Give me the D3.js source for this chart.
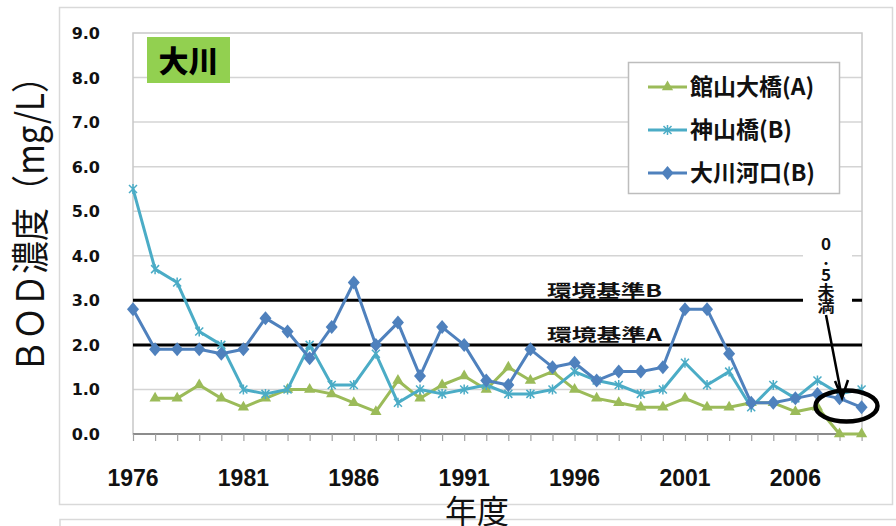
<!DOCTYPE html>
<html><head><meta charset="utf-8">
<script src="https://cdn.jsdelivr.net/npm/d3@7"></script>
<style>body{margin:0;background:#fff}svg{display:block}</style>
</head><body><svg id="c" width="896" height="526"></svg>
<script>
const years = [1976,1977,1978,1979,1980,1981,1982,1983,1984,1985,1986,1987,1988,1989,1990,1991,1992,1993,1994,1995,1996,1997,1998,1999,2000,2001,2002,2003,2004,2005,2006,2007,2008,2009];
const yTicks = [0,1,2,3,4,5,6,7,8,9];
const xLabelYears = [1976,1981,1986,1991,1996,2001,2006];
const seriesNames = ["館山大橋(A)","神山橋(B)","大川河口(B)"];
const tateyama = [null,0.8,0.8,1.1,0.8,0.6,0.8,1.0,1.0,0.9,0.7,0.5,1.2,0.8,1.1,1.3,1.0,1.5,1.2,1.4,1.0,0.8,0.7,0.6,0.6,0.8,0.6,0.6,0.7,0.7,0.5,0.6,0.0,0.0];
const kamiyama = [5.5,3.7,3.4,2.3,2.0,1.0,0.9,1.0,2.0,1.1,1.1,1.8,0.7,1.0,0.9,1.0,1.1,0.9,0.9,1.0,1.4,1.2,1.1,0.9,1.0,1.6,1.1,1.4,0.6,1.1,0.8,1.2,0.9,1.0];
const okawa = [2.8,1.9,1.9,1.9,1.8,1.9,2.6,2.3,1.7,2.4,3.4,2.0,2.5,1.3,2.4,2.0,1.2,1.1,1.9,1.5,1.6,1.2,1.4,1.4,1.5,2.8,2.8,1.8,0.7,0.7,0.8,0.9,0.8,0.6];
const standardValues = [3.0, 2.0];
const standardLabels = ["環境基準B","環境基準A"];
const riverLabel = "大川";
const noteText = "0.5未満";
const yTitle = "ＢＯＤ濃度（mg/L）";
const xTitle = "年度";

const svg = d3.select("#c");
svg.append("rect").attr("width",896).attr("height",526).attr("fill","#fff");

const L = 133, R = 862, T = 33, B = 434;
const x = d3.scalePoint().domain(years).range([L, 861.6]);
const y = d3.scaleLinear().domain([0, 9]).range([B, T]);

// outer chart borders
svg.append("rect").attr("x",59.5).attr("y",7.5).attr("width",833).attr("height",497)
  .attr("fill","none").attr("stroke","#d9d9d9").attr("stroke-width",1.5);
svg.append("path").attr("d","M60,526V519.5H896").attr("fill","none").attr("stroke","#d9d9d9").attr("stroke-width",1.5);

// gridlines
svg.append("g").selectAll("line").data(yTicks.filter(d => d > 0 && d < 9)).join("line")
  .attr("x1", L).attr("x2", R).attr("y1", d => y(d)).attr("y2", d => y(d))
  .attr("stroke","#d4d4d4").attr("stroke-width",1.5);
// plot border
svg.append("rect").attr("x",L).attr("y",T).attr("width",R-L).attr("height",B-T)
  .attr("fill","none").attr("stroke","#c8c8c8").attr("stroke-width",1.5);

// y labels
svg.append("g").selectAll("text").data(yTicks).join("text")
  .attr("x", 100).attr("y", d => y(d) + 6)
  .attr("text-anchor","end").attr("font-family","DejaVu Sans").attr("font-weight","bold")
  .attr("font-size",16).attr("fill","#111").text(d => d.toFixed(1));

// x axis with ticks at every year
const xAxis = svg.append("g").attr("transform",`translate(0,${B})`)
  .call(d3.axisBottom(x).tickSize(7).tickFormat(""));
xAxis.select(".domain").attr("stroke","#8c8c8c").attr("stroke-width",2).attr("d",`M${L},0H${R}`);
xAxis.selectAll(".tick line").attr("stroke","#a0a0a0").attr("stroke-width",1.2);
svg.append("g").selectAll("text").data(xLabelYears).join("text")
  .attr("x", d => x(d)).attr("y", 486).attr("text-anchor","middle")
  .attr("font-family","Liberation Sans").attr("font-weight","bold").attr("font-size",23)
  .attr("fill","#111").text(d => d);

// standard lines
svg.append("g").selectAll("line").data(standardValues).join("line")
  .attr("x1", L).attr("x2", R).attr("y1", d => y(d)).attr("y2", d => y(d))
  .attr("stroke","#000").attr("stroke-width",3);

// series
const series = [
  {name: seriesNames[0], values: tateyama, color: "#9bbb59", marker: "tri"},
  {name: seriesNames[1], values: kamiyama, color: "#4bacc6", marker: "star"},
  {name: seriesNames[2], values: okawa, color: "#4f81bd", marker: "dia"}
];
const line = d3.line().defined(d => d.v !== null).x(d => x(d.yr)).y(d => y(d.v));
function drawMarker(g, type, color) {
  if (type === "tri") {
    g.append("path").attr("d", d3.symbol(d3.symbolTriangle, 55)()).attr("fill", color);
  } else if (type === "dia") {
    g.append("path").attr("d","M0,-7L6,0L0,7L-6,0Z").attr("fill", color);
  } else {
    g.append("path").attr("d","M-4,-4L4,4M-4,4L4,-4M0,-5V5").attr("stroke", color).attr("stroke-width",1.5).attr("fill","none");
  }
}
series.forEach(s => {
  const pts = years.map((yr, i) => ({yr, v: s.values[i]}));
  svg.append("path").datum(pts).attr("d", line).attr("fill","none")
    .attr("stroke", s.color).attr("stroke-width",3).attr("stroke-linejoin","round");
  const mg = svg.append("g");
  pts.filter(d => d.v !== null).forEach(d => {
    const g = mg.append("g").attr("transform", `translate(${x(d.yr)},${y(d.v)})`);
    drawMarker(g, s.marker, s.color);
  });
});

// standard labels
svg.append("g").selectAll("text").data(standardValues).join("text")
  .attr("x", 547).attr("y", d => y(d) - 3.5)
  .attr("font-family","Noto Sans CJK JP").attr("font-weight","bold").attr("font-size",17)
  .attr("textLength",115).attr("lengthAdjust","spacingAndGlyphs")
  .attr("fill","#111").text((d,i) => standardLabels[i]);

// note box with vertical text
svg.append("rect").attr("x",803).attr("y",233).attr("width",49).attr("height",84).attr("fill","#fff");
svg.append("text").attr("x",826).attr("y",236)
  .style("writing-mode","vertical-rl").style("text-orientation","upright")
  .attr("font-family","Noto Sans CJK JP").attr("font-weight","bold").attr("font-size",17)
  .attr("textLength",78).attr("lengthAdjust","spacingAndGlyphs")
  .attr("fill","#111").text(noteText);
// arrow
svg.append("path").attr("d","M826,315L842,398M835,381L842,398L848,380")
  .attr("fill","none").attr("stroke","#000").attr("stroke-width",2.5).attr("stroke-linejoin","miter");
// ellipse
svg.append("ellipse").attr("cx",846.5).attr("cy",406).attr("rx",31).attr("ry",15.5)
  .attr("fill","none").attr("stroke","#000").attr("stroke-width",4.5);

// river label
svg.append("rect").attr("x",147).attr("y",37).attr("width",83).attr("height",46).attr("fill","#92d050");
svg.append("text").attr("x",188.5).attr("y",61).attr("dy","0.36em").attr("text-anchor","middle")
  .attr("font-family","Noto Sans CJK JP").attr("font-weight","900").attr("font-size",30)
  .attr("fill","#000").text(riverLabel);

// legend
const lg = svg.append("g");
lg.append("rect").attr("x",628.5).attr("y",62.5).attr("width",211).attr("height",131)
  .attr("fill","#fff").attr("stroke","#bdbdbd").attr("stroke-width",1.5);
series.forEach((s, i) => {
  const cy = 87 + i * 43;
  lg.append("line").attr("x1",648).attr("x2",687).attr("y1",cy).attr("y2",cy)
    .attr("stroke", s.color).attr("stroke-width",3);
  const g = lg.append("g").attr("transform",`translate(667.5,${cy})`);
  drawMarker(g, s.marker, s.color);
  lg.append("text").attr("x",690).attr("y",cy).attr("dy","0.36em")
    .attr("font-family","Noto Sans CJK JP").attr("font-weight","bold").attr("font-size",23)
    .attr("fill","#111").text(s.name);
});

// axis titles
svg.append("text").attr("transform","translate(44,216.5) rotate(-90)").attr("text-anchor","middle")
  .attr("font-family","Noto Sans CJK JP").attr("font-size",38)
  .attr("textLength",313).attr("lengthAdjust","spacingAndGlyphs")
  .attr("fill","#111").text(yTitle);
svg.append("text").attr("x",477).attr("y",523).attr("text-anchor","middle")
  .attr("font-family","Noto Sans CJK JP").attr("font-size",32).attr("fill","#111").text(xTitle);
</script></body></html>
